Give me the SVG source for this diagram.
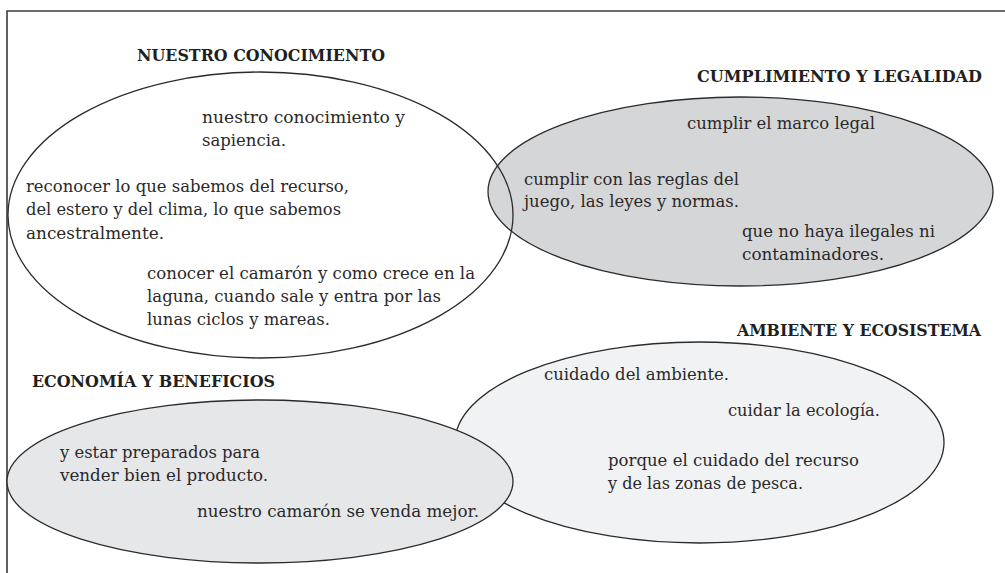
<svg xmlns="http://www.w3.org/2000/svg" width="1005" height="573" viewBox="0 0 1005 573">
<style>
.frame{fill:none;stroke:#3a3a3a;stroke-width:1.6}
.el{stroke:#2b2b2b;stroke-width:1.3}
.t{font-family:"DejaVu Serif","Liberation Serif",serif;font-size:17.5px;fill:#2a2829}
.h{font-family:"DejaVu Serif","Liberation Serif",serif;font-size:17px;font-weight:bold;fill:#231f20}
</style>
<rect width="1005" height="573" fill="#ffffff"/>
<path class="frame" d="M7,573 V11 H1005"/>
<g id="conocimiento-fill"><ellipse cx="260.5" cy="215" rx="252.5" ry="143" fill="#ffffff" stroke="none"/></g>
<g id="cumplimiento">
<ellipse class="el" cx="740.5" cy="191.5" rx="252.5" ry="94.5" fill="#d5d6d8"/>
</g>
<g id="conocimiento">
<ellipse class="el" cx="260.5" cy="215" rx="252.5" ry="143" fill="none"/>
<text class="h" x="137" y="61" textLength="248" lengthAdjust="spacingAndGlyphs">NUESTRO CONOCIMIENTO</text>
<text class="t" x="202" y="123" textLength="203" lengthAdjust="spacingAndGlyphs">nuestro conocimiento y</text>
<text class="t" x="202" y="146" textLength="84" lengthAdjust="spacingAndGlyphs">sapiencia.</text>
<text class="t" x="26" y="192" textLength="323" lengthAdjust="spacingAndGlyphs">reconocer lo que sabemos del recurso,</text>
<text class="t" x="26" y="215" textLength="315" lengthAdjust="spacingAndGlyphs">del estero y del clima, lo que sabemos</text>
<text class="t" x="26" y="239" textLength="138" lengthAdjust="spacingAndGlyphs">ancestralmente.</text>
<text class="t" x="147" y="279" textLength="328" lengthAdjust="spacingAndGlyphs">conocer el camarón y como crece en la</text>
<text class="t" x="147" y="302" textLength="294" lengthAdjust="spacingAndGlyphs">laguna, cuando sale y entra por las</text>
<text class="t" x="147" y="325" textLength="183" lengthAdjust="spacingAndGlyphs">lunas ciclos y mareas.</text>
</g>
<g id="cumplimiento-text">
<text class="h" x="697" y="82" textLength="285" lengthAdjust="spacingAndGlyphs">CUMPLIMIENTO Y LEGALIDAD</text>
<text class="t" x="687" y="129" textLength="188" lengthAdjust="spacingAndGlyphs">cumplir el marco legal</text>
<text class="t" x="524" y="185" textLength="215" lengthAdjust="spacingAndGlyphs">cumplir con las reglas del</text>
<text class="t" x="524" y="207" textLength="215" lengthAdjust="spacingAndGlyphs">juego, las leyes y normas.</text>
<text class="t" x="742" y="237" textLength="193" lengthAdjust="spacingAndGlyphs">que no haya ilegales ni</text>
<text class="t" x="742" y="260" textLength="142" lengthAdjust="spacingAndGlyphs">contaminadores.</text>
</g>
<g id="ambiente">
<ellipse class="el" cx="699.5" cy="442.5" rx="244.5" ry="100.5" fill="#f1f2f3"/>
<text class="h" x="737" y="336" textLength="244" lengthAdjust="spacingAndGlyphs">AMBIENTE Y ECOSISTEMA</text>
<text class="t" x="544" y="380" textLength="185" lengthAdjust="spacingAndGlyphs">cuidado del ambiente.</text>
<text class="t" x="728" y="416" textLength="152" lengthAdjust="spacingAndGlyphs">cuidar la ecología.</text>
<text class="t" x="608" y="466" textLength="251" lengthAdjust="spacingAndGlyphs">porque el cuidado del recurso</text>
<text class="t" x="608" y="489" textLength="195" lengthAdjust="spacingAndGlyphs">y de las zonas de pesca.</text>
</g>
<g id="economia">
<ellipse class="el" cx="260" cy="481.5" rx="253" ry="81.5" fill="#e6e7e9"/>
<text class="h" x="32" y="387" textLength="243" lengthAdjust="spacingAndGlyphs">ECONOMÍA Y BENEFICIOS</text>
<text class="t" x="60" y="458" textLength="200" lengthAdjust="spacingAndGlyphs">y estar preparados para</text>
<text class="t" x="60" y="481" textLength="208" lengthAdjust="spacingAndGlyphs">vender bien el producto.</text>
<text class="t" x="197" y="517" textLength="282" lengthAdjust="spacingAndGlyphs">nuestro camarón se venda mejor.</text>
</g>
<g id="connectors"></g>
</svg>
